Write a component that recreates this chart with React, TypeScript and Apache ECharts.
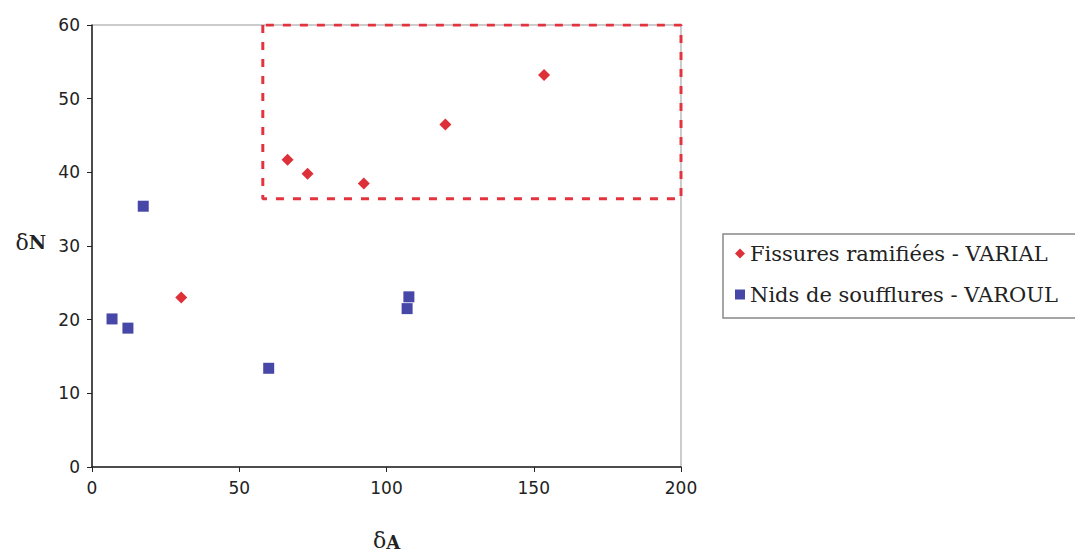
import React, { useEffect, useRef } from "react";
import * as echarts from "echarts";

const seriesNames = ["Fissures ramifiées - VARIAL", "Nids de soufflures - VAROUL"];

const varialA = [30.3, 66.4, 73.2, 92.3, 120, 153.5];
const varialN = [23.0, 41.7, 39.8, 38.5, 46.5, 53.2];

const varoulA = [6.8, 12.2, 17.4, 60, 107, 107.6];
const varoulN = [20.1, 18.85, 35.4, 13.4, 21.5, 23.1];

const zoneA = [58, 58, 200, 200, 58];
const zoneN = [60, 36.4, 36.4, 60, 60];

const xTicks = { min: 0, max: 200, interval: 50 };
const yTicks = { min: 0, max: 60, interval: 10 };

const zip = (a: number[], b: number[]) => a.map((v, i) => [v, b[i]]);

export default function App() {
  const ref = useRef<HTMLDivElement>(null);
  useEffect(() => {
    if (!ref.current) return;
    const chart = echarts.init(ref.current, null, { renderer: "svg" });
    const tickFont = { fontFamily: "DejaVu Sans", fontSize: 17, color: "#222" };
    chart.setOption({
      animation: false,
      backgroundColor: "#fff",
      grid: {
        left: 92,
        top: 25,
        right: 394,
        bottom: 82,
        show: true,
        borderColor: "#999",
        borderWidth: 1,
      },
      xAxis: {
        type: "value",
        ...xTicks,
        name: "{d|δ}{b|A}",
        nameLocation: "middle",
        nameGap: 62,
        nameTextStyle: {
          rich: {
            d: { fontFamily: "DejaVu Serif", fontSize: 22, color: "#222" },
            b: { fontFamily: "DejaVu Serif", fontSize: 18, fontWeight: "bold", color: "#222", padding: [4, 0, 0, 0] },
          },
        },
        splitLine: { show: false },
        axisLine: { lineStyle: { color: "#222", width: 1.5 } },
        axisTick: { length: 5, lineStyle: { color: "#222" } },
        axisLabel: { ...tickFont, margin: 12 },
      },
      yAxis: {
        type: "value",
        ...yTicks,
        name: "{d|δ}{b|N}",
        nameLocation: "middle",
        nameRotate: 0,
        nameGap: 46,
        nameTextStyle: {
          align: "right",
          padding: [0, 0, 8, 0],
          rich: {
            d: { fontFamily: "DejaVu Serif", fontSize: 22, color: "#222" },
            b: { fontFamily: "DejaVu Serif", fontSize: 19, fontWeight: "bold", color: "#222" },
          },
        },
        splitLine: { show: false },
        axisLine: { lineStyle: { color: "#222", width: 1.5 } },
        axisTick: { length: 5, lineStyle: { color: "#222" } },
        axisLabel: { ...tickFont, margin: 12 },
      },
      legend: {
        orient: "vertical",
        left: 723,
        top: 234,
        borderColor: "#888",
        borderWidth: 1.5,
        borderRadius: 0,
        padding: [9, 30, 13, 12],
        itemGap: 20,
        itemWidth: 10,
        itemHeight: 10,
        textStyle: { fontFamily: "DejaVu Serif", fontSize: 21, color: "#222" },
        data: [
          { name: seriesNames[0], icon: "diamond" },
          { name: seriesNames[1], icon: "rect" },
        ],
      },
      series: [
        {
          name: "zone",
          type: "line",
          data: zip(zoneA, zoneN),
          symbol: "none",
          silent: true,
          lineStyle: { color: "#e2343f", width: 3, type: [8, 9] },
          z: 1,
        },
        {
          name: seriesNames[0],
          type: "scatter",
          data: zip(varialA, varialN),
          symbol: "diamond",
          symbolSize: 12,
          itemStyle: { color: "#dd3038", opacity: 1 },
          z: 3,
        },
        {
          name: seriesNames[1],
          type: "scatter",
          data: zip(varoulA, varoulN),
          symbol: "rect",
          symbolSize: 11,
          itemStyle: { color: "#4747a8", opacity: 1 },
          z: 3,
        },
      ],
    });
    return () => chart.dispose();
  }, []);
  return (
    <div
      ref={ref}
      style={{ position: "fixed", left: 0, top: 0, width: 1075, height: 556 }}
    />
  );
}
